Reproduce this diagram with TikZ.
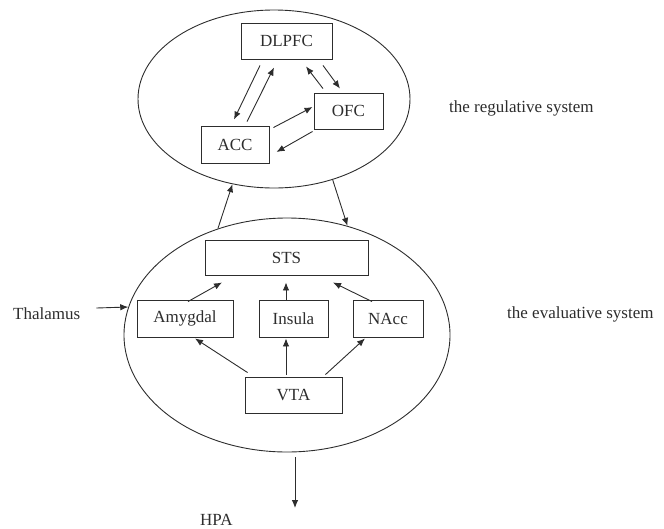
\documentclass[tikz,border=0pt]{standalone}
\usepackage{fontspec}
\setmainfont{Liberation Serif}
\usetikzlibrary{arrows.meta,calc,shapes.geometric}
\definecolor{linec}{RGB}{45,45,45}
\begin{document}
\begin{tikzpicture}[x=1pt,y=-1pt,
  font=\fontsize{17}{20}\selectfont, text=linec,
  box/.style={draw=linec, line width=0.9pt, inner sep=0pt},
  oval/.style={ellipse, draw=linec, line width=0.9pt, inner sep=0pt},
  arr/.style={draw=linec, line width=0.9pt, -{Latex[length=8pt,width=6.5pt]}},
  lbl/.style={inner sep=0pt, anchor=base west}]
\useasboundingbox (0,0) rectangle (664,528);
% ellipses
\node[oval, minimum width=272pt, minimum height=178pt] (reg) at (274,99) {};
\node[oval, minimum width=326pt, minimum height=234pt] (eval) at (287,335) {};
% regulative boxes
\node[box, minimum width=91pt, minimum height=36pt] (dlpfc) at (286.5,41) {DLPFC};
\node[box, minimum width=69pt, minimum height=36pt] (ofc) at (348.5,111) {OFC};
\node[box, minimum width=68pt, minimum height=37pt] (acc) at (235,144.5) {ACC};
% evaluative boxes
\node[box, minimum width=163pt, minimum height=35pt] (sts) at (286.5,257.5) {STS};
\node[box, minimum width=96pt, minimum height=37pt] (amy) at (185,318.5) {Amygdal};
\node[box, minimum width=69pt, minimum height=37pt] (ins) at (293.5,318.5) {Insula};
\node[box, minimum width=70pt, minimum height=37pt] (nacc) at (388,318.5) {NAcc};
\node[box, minimum width=97pt, minimum height=36pt] (vta) at (293.5,395) {VTA};
% labels
\node[lbl] (lreg) at (449,112) {the regulative system};
\node[lbl] (leval) at (507,318) {the evaluative system};
\node[lbl] (thal) at (13,319) {Thalamus};
\node[lbl] (hpa) at (200,525) {HPA};
\coordinate (hpaend) at (295,508);
% regulative arrows
\draw[arr] ($(dlpfc.south)+(-26.5,6)$) -- ($(acc.north)+(-1,-6)$);
\draw[arr] ($(acc.north)+(12,-4)$) -- ($(dlpfc.south)+(-12.5,8)$);
\draw[arr] ($(ofc.north)+(-25.5,-4)$) -- ($(dlpfc.south)+(19.5,7)$);
\draw[arr] ($(dlpfc.south)+(36.5,6)$) -- ($(ofc.north)+(-8.5,-4)$);
\draw[arr] ($(acc.north east)+(4,2)$) -- ($(ofc.west)+(-1,-4)$);
\draw[arr] ($(ofc.south west)+(-1,2)$) -- ($(acc.east)+(7,7.5)$);
% between systems
\draw[arr] (eval.123) -- (reg.244);
\draw[arr] (reg.-54) -- (eval.61);
% evaluative arrows
\draw[arr] ($(amy.north)+(3,2)$) -- ($(sts.south)+(-64.5,7)$);
\draw[arr] ($(ins.north)+(-7.5,0)$) -- ($(sts.south)+(-0.5,7)$);
\draw[arr] ($(nacc.north)+(-16,2)$) -- ($(sts.south)+(46.5,7)$);
\draw[arr] ($(vta.north west)+(3,-4)$) -- ($(amy.south)+(10,1)$);
\draw[arr] ($(vta.north)+(-7.5,-2)$) -- ($(ins.south)+(-7.5,1)$);
\draw[arr] ($(vta.north east)+(-17,-2)$) -- ($(nacc.south)+(-23,1)$);
% inputs / outputs
\draw[arr] ($(thal.base east)+(16,-11)$) -- (eval.170);
\draw[arr] ($(eval.south)+(8,5)$) -- (hpaend);
\end{tikzpicture}
\end{document}
